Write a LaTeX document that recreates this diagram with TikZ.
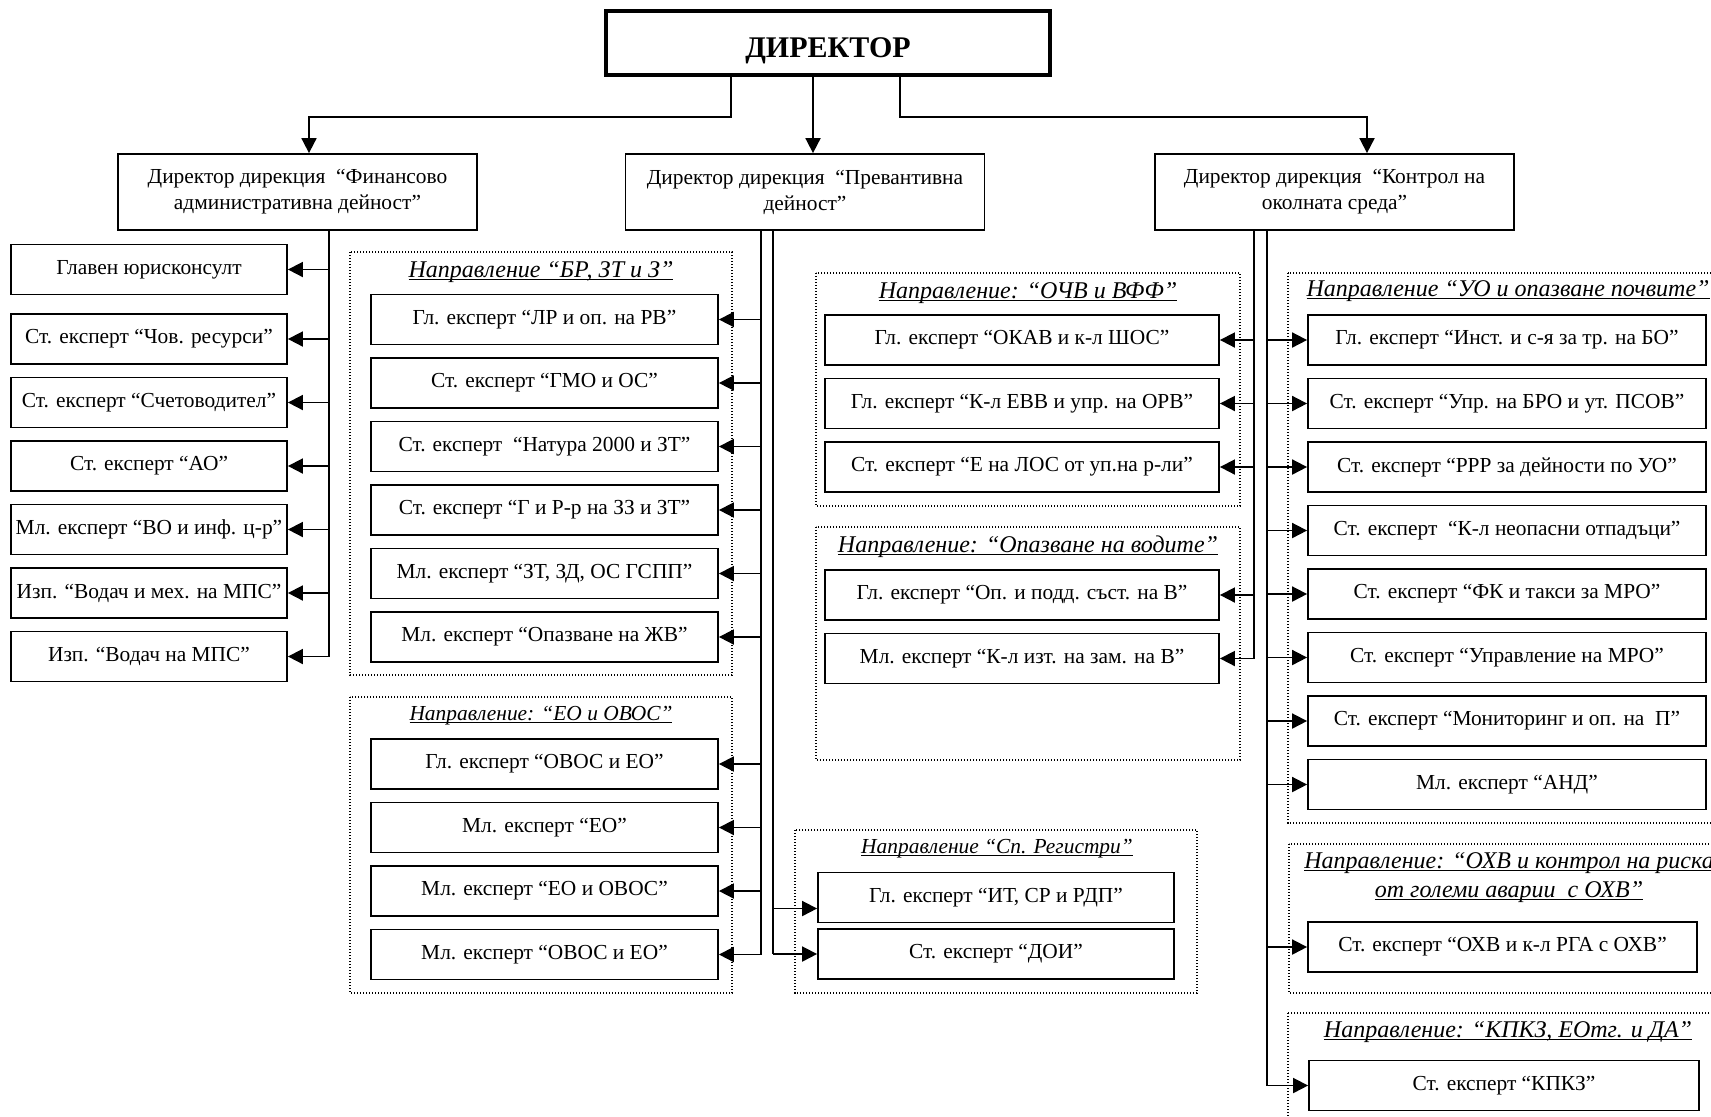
\documentclass[tikz,border=0pt]{standalone}
\usepackage{fontspec}
\setmainfont{Liberation Serif}
\usepackage{tikz}
\usetikzlibrary{shapes,arrows,fit, positioning, arrows.meta}
\usetikzlibrary{backgrounds}
\newsavebox{\titlebox}
\newcommand{\titleline}[1]{\sbox{\titlebox}{#1}\rlap{\usebox{\titlebox}}\rule[-1.6pt]{\wd\titlebox}{0.8pt}}

\begin{document}
\begin{tikzpicture}[x=0.5pt, y=-0.5pt, every node/.style={font=\fontsize{10.7}{13}\selectfont}]
	\tikzstyle{box_style}=[rectangle, draw, line width=0.9pt, minimum height = 25pt, inner sep=1pt, align=center]
	\tikzstyle{head_style}=[box_style, minimum width = 179.5pt, minimum height = 38pt]
	\tikzstyle{fin_style}=[box_style, minimum width = 138pt]
	\tikzstyle{br_style}=[box_style, minimum width = 173.5pt]
	\tikzstyle{och_style}=[box_style, minimum width = 197pt]
	\tikzstyle{reg_style}=[box_style, minimum width = 178pt]
	\tikzstyle{uo_style}=[box_style, minimum width = 199pt]
	\tikzstyle{group_style}=[draw, line width=0.7pt, dash pattern=on 0.7pt off 0.8pt]
	\tikzstyle{title_style}=[anchor=base, inner sep=0pt, font=\fontsize{12}{14}\selectfont\itshape]
	\tikzstyle{arrow_style}=[line width=0.9pt, -{Triangle[length=7.5pt, width=7.5pt]}]
	\tikzstyle{line_style}=[line width=0.9pt]

	\useasboundingbox (0,0) rectangle (1711,1116);
	\clip (0,0) rectangle (1711,1116);

	% director
	\draw node at (828, 43) [rectangle, draw, line width=2pt, minimum width = 222pt, minimum height = 32pt, text height=14pt, text depth=0pt, font=\fontsize{15}{18}\selectfont\bfseries] (director) {ДИРЕКТОР};

	% directorates
	\draw node at (297.5, 192) [head_style] (head_fin) {Директор дирекция~~“Финансово\\административна дейност”};
	\draw node at (805, 192) [head_style] (head_prev) {Директор дирекция~~“Превантивна\\дейност”};
	\draw node at (1334.5, 192) [head_style] (head_env) {Директор дирекция~~“Контрол на\\околната среда”};

	% finance column
	\draw node at (149, 269.5) [fin_style] (fin_1) {Главен юрисконсулт};
	\foreach \i/\txt in {2/{Ст. експерт “Чов. ресурси”}, 3/{Ст. експерт “Счетоводител”}, 4/{Ст. експерт “АО”}, 5/{Мл. експерт “ВО и инф. ц-р”}, 6/{Изп. “Водач и мех. на МПС”}, 7/{Изп. “Водач на МПС”}}
		\draw node at (149, {212 + 63.5*\i}) [fin_style] (fin_\i) {\txt};

	% group br
	\draw[group_style] (350, 252) rectangle (732, 675);
	\node at (541, 277) [title_style] (title_br) {\titleline{Направление “БР, ЗТ и З”}};
	\foreach \i/\txt in {1/{Гл. експерт “ЛР и оп. на РВ”}, 2/{Ст. експерт “ГМО и ОС”}, 3/{Ст. експерт~~“Натура 2000 и ЗТ”}, 4/{Ст. експерт “Г и Р-р на ЗЗ и ЗТ”}, 5/{Мл. експерт “ЗТ, ЗД, ОС ГСПП”}, 6/{Мл. експерт “Опазване на ЖВ”}}
		\draw node at (544.5, {256 + 63.5*\i}) [br_style] (br_\i) {\txt};

	% group eo
	\draw[group_style] (350, 697) rectangle (732, 993);
	\node at (541, 720) [title_style, font=\fontsize{10.7}{13}\selectfont\itshape] (title_eo) {\titleline{Направление: “ЕО и ОВОС”}};
	\foreach \i/\txt in {1/{Гл. експерт “ОВОС и ЕО”}, 2/{Мл. експерт “ЕО”}, 3/{Мл. експерт “ЕО и ОВОС”}, 4/{Мл. експерт “ОВОС и ЕО”}}
		\draw node at (544.5, {700.5 + 63.5*\i}) [br_style] (eo_\i) {\txt};

	% group och
	\draw[group_style] (816, 273) rectangle (1240, 506);
	\node at (1028, 298) [title_style] (title_och) {\titleline{Направление: “ОЧВ и ВФФ”}};
	\foreach \i/\txt in {1/{Гл. експерт “ОКАВ и к-л ШОС”}, 2/{Гл. експерт “К-л ЕВВ и упр. на ОРВ”}, 3/{Ст. експерт “Е на ЛОС от уп.на р-ли”}}
		\draw node at (1022, {276.5 + 63.5*\i}) [och_style] (och_\i) {\txt};

	% group waters
	\draw[group_style] (816, 527) rectangle (1240, 760);
	\node at (1028, 552) [title_style] (title_vod) {\titleline{Направление: “Опазване на водите”}};
	\foreach \i/\txt in {1/{Гл. експерт “Оп. и подд. съст. на В”}, 2/{Мл. експерт “К-л изт. на зам. на В”}}
		\draw node at (1022, {531.5 + 63.5*\i}) [och_style] (vod_\i) {\txt};

	% group registers
	\draw[group_style] (795, 830) rectangle (1197, 993);
	\node at (997, 853) [title_style, font=\fontsize{10.7}{13}\selectfont\itshape] (title_reg) {\titleline{Направление “Сп. Регистри”}};
	\draw node at (996, 897.5) [reg_style] (reg_1) {Гл. експерт “ИТ, СР и РДП”};
	\draw node at (996, 954) [reg_style] (reg_2) {Ст. експерт “ДОИ”};

	% group uo
	\draw[group_style] (1288, 273) rectangle (1725, 823);
	\node at (1508, 296) [title_style] (title_uo) {\titleline{Направление “УО и опазване почвите”}};
	\foreach \i/\txt in {1/{Гл. експерт “Инст. и с-я за тр. на БО”}, 2/{Ст. експерт “Упр. на БРО и ут. ПСОВ”}, 3/{Ст. експерт “РРР за дейности по УО”}, 4/{Ст. експерт~~“К-л неопасни отпадъци”}, 5/{Ст. експерт “ФК и такси за МРО”}, 6/{Ст. експерт “Управление на МРО”}, 7/{Ст. експерт “Мониторинг и оп. на~~П”}, 8/{Мл. експерт “АНД”}}
		\draw node at (1507, {276.5 + 63.5*\i}) [uo_style] (uo_\i) {\txt};

	% group ohv
	\draw[group_style] (1289, 844) rectangle (1725, 993);
	\node at (1509, 868) [title_style] (title_ohv_1) {\titleline{Направление: “ОХВ и контрол на риска}};
	\node at (1509, 897) [title_style] (title_ohv_2) {\titleline{от големи аварии~~с ОХВ”}};
	\draw node at (1502.5, 947) [uo_style, minimum width = 194.5pt] (ohv) {Ст. експерт “ОХВ и к-л РГА с ОХВ”};

	% group kpkz
	\draw[group_style] (1288, 1013) rectangle (1725, 1130);
	\node at (1508, 1037) [title_style] (title_kpkz) {\titleline{Направление: “КПКЗ, ЕОтг. и ДА”}};
	\draw node at (1504, 1085.5) [uo_style, minimum width = 195pt] (kpkz) {Ст. експерт “КПКЗ”};

	% connect: director -> directorates
	\coordinate (split_fin) at (731, 117);
	\coordinate (split_env) at (900, 117);
	\draw[arrow_style] (director.south -| split_fin) -- (split_fin) -| ([xshift=5.75pt]head_fin.north);
	\draw[arrow_style] ([xshift=4pt]head_prev.north |- director.south) -- ([xshift=4pt]head_prev.north);
	\draw[arrow_style] (director.south -| split_env) -- (split_env) -| ([xshift=16.25pt]head_env.north);

	% buses
	\coordinate (fin_bus) at (329, 0);
	\coordinate (prev_bus_l) at (761, 0);
	\coordinate (prev_bus_r) at (773, 0);
	\coordinate (env_bus_l) at (1254, 0);
	\coordinate (env_bus_r) at (1267, 0);

	% connect: finance -> column
	\draw[line_style] (head_fin.south -| fin_bus) -- (fin_bus |- fin_7);
	\foreach \i in {1,...,7}
		\draw[arrow_style] (fin_bus |- fin_\i) -- (fin_\i);

	% connect: prevention -> br, eo, registers
	\draw[line_style] (head_prev.south -| prev_bus_l) -- (prev_bus_l |- eo_4);
	\draw[line_style] (head_prev.south -| prev_bus_r) -- (prev_bus_r |- reg_2);
	\foreach \i in {1,...,6}
		\draw[arrow_style] (prev_bus_l |- br_\i) -- (br_\i);
	\foreach \i in {1,...,4}
		\draw[arrow_style] (prev_bus_l |- eo_\i) -- (eo_\i);
	\coordinate (reg_1_in) at ([yshift=-5.5pt]reg_1.west);
	\draw[arrow_style] (prev_bus_r |- reg_1_in) -- (reg_1_in);
	\draw[arrow_style] (prev_bus_r |- reg_2) -- (reg_2);

	% connect: environment -> och, waters, uo, ohv, kpkz
	\draw[line_style] (head_env.south -| env_bus_l) -- (env_bus_l |- vod_2);
	\draw[line_style] (head_env.south -| env_bus_r) -- (env_bus_r |- kpkz);
	\foreach \i in {1,...,3}
		\draw[arrow_style] (env_bus_l |- och_\i) -- (och_\i);
	\foreach \i in {1,...,2}
		\draw[arrow_style] (env_bus_l |- vod_\i) -- (vod_\i);
	\foreach \i in {1,...,8}
		\draw[arrow_style] (env_bus_r |- uo_\i) -- (uo_\i);
	\draw[arrow_style] (env_bus_r |- ohv) -- (ohv);
	\draw[arrow_style] (env_bus_r |- kpkz) -- (kpkz);

\end{tikzpicture}
\end{document}
